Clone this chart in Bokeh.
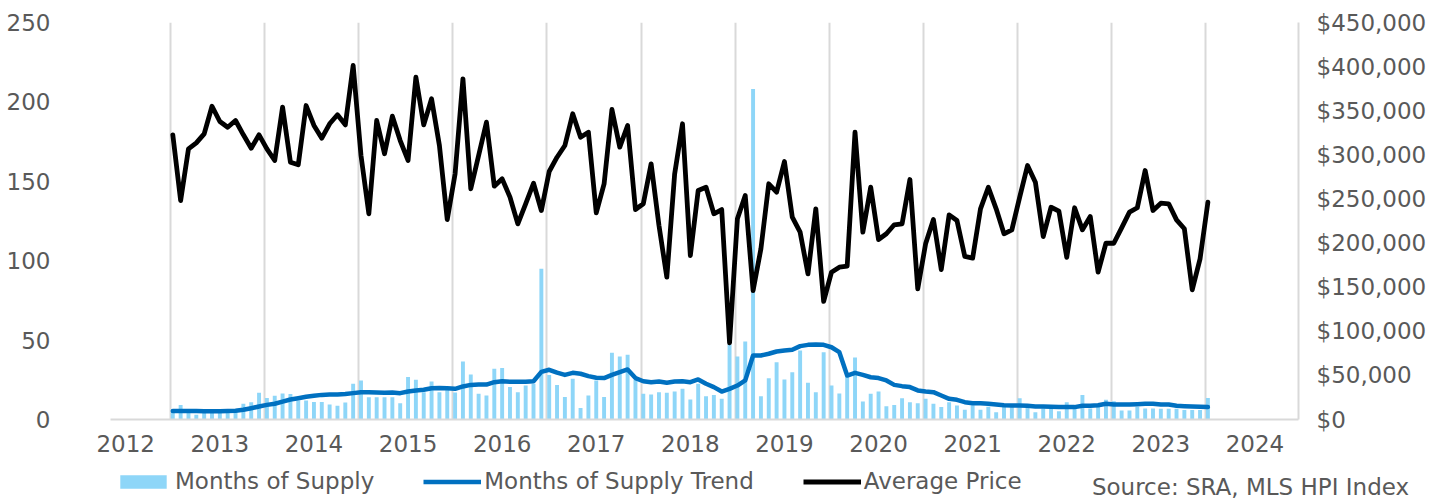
from bokeh.plotting import figure
from bokeh.layouts import column
from bokeh.models import (Range1d, LinearAxis, FixedTicker, NumeralTickFormatter,
                          Legend, LegendItem, Label, ColumnDataSource)
from bokeh.embed import file_html
from bokeh.resources import INLINE

# ---- data (monthly, July 2012 - July 2023) ----
start_year = 2012
start_month = 7
years = list(range(2012, 2025))

supply = [5, 9.2, 5, 3, 4.5, 5, 4.5, 5, 5,
          9.9, 10.9, 16.8, 13.6, 14.9, 16.4, 16.0, 12, 12, 11,
          11, 9.4, 8.6, 10.7, 22.5, 24.6, 14, 14, 14, 14,
          10.3, 26.7, 25, 17.2, 23.9, 17.2, 19, 17, 36.5, 28.3,
          16.2, 15.1, 31.9, 32.4, 20.4, 17.2, 21.4, 22.5, 94.9, 28,
          21.8, 14.1, 25.6, 7.3, 15.1, 24.6, 14.1, 42, 39.7, 40.7,
          25, 16.2, 15.7, 17.2, 16.8, 17.6, 19.3, 12.6, 22.5, 14.7,
          15.5, 13, 47, 39.7, 49.1, 208.2, 14.7, 26, 36.1, 25.2,
          29.8, 43.5, 23.1, 17.2, 42.4, 21.4, 16.4, 28.8, 39, 11.3,
          16.2, 17.6, 8.4, 9.2, 13.4, 10.9, 10.3, 13, 9.9, 7.8,
          10.9, 8.8, 6.1, 9, 6.1, 8, 4.6, 8, 8, 13.4,
          8, 4.6, 7, 7, 5.2, 10.9, 7, 15.5, 7, 8,
          12.4, 11.5, 5.7, 5.7, 8, 7, 7, 6.7, 6.7, 6.7,
          6, 6, 6, 13.6]

trend = [5.3, 5.3, 5.4, 5.3, 5.2, 5.2, 5.2, 5.3, 5.5,
         6.1, 7.1, 8.2, 9.2, 9.9, 11.3, 12.6, 13.4, 14.3, 14.9,
         15.5, 15.7, 15.7, 16.0, 16.6, 17.2, 17.2, 17.0, 16.8, 17.0,
         16.6, 17.6, 18.3, 18.7, 19.7, 19.9, 19.7, 19.3, 20.8, 21.8,
         22.0, 22.0, 23.5, 24.1, 23.7, 23.7, 23.7, 24.1, 30.0, 31.3,
         29.5, 28.1, 29.4, 28.8, 27.3, 26.3, 26.1, 28.1, 29.8, 31.5,
         26.1, 24.1, 23.5, 23.9, 23.1, 23.9, 24.1, 23.5, 25.2, 22.5,
         20.4, 17.6, 19.3, 21.4, 24.6, 40.3, 40.3, 41.4, 42.8, 43.5,
         43.9, 46.2, 47.0, 47.2, 47.0, 45.5, 42.4, 27.7, 29.4, 28.1,
         26.6, 26.1, 24.6, 21.8, 21.0, 20.4, 18.3, 17.6, 17.2, 15.1,
         13.0, 12.4, 10.9, 10.3, 10.3, 9.9, 9.4, 9.0, 8.8, 8.8,
         8.6, 8.2, 8.2, 8.0, 7.8, 7.8, 7.8, 8.6, 8.6, 9.0,
         9.9, 9.4, 9.4, 9.4, 9.6, 9.9, 9.9, 9.4, 9.4, 8.6,
         8.4, 8.2, 8.0, 7.8]

price = [322700, 248200, 306800, 313600, 323800, 355100, 337800, 331300, 338900, 322700,
         307500, 322700, 306800, 293600, 354000, 291700, 288700, 355900, 333300, 318900,
         335200, 345400, 334000, 401300, 299200, 233200, 338900, 301200, 343800, 316200,
         293600, 388000, 334000, 363500, 310600, 226700, 278500, 386200, 261500, 299200,
         337000, 264500, 272800, 252000, 221800, 244500, 267800, 236900, 281100, 297300,
         310600, 346500, 320000, 325700, 234300, 267000, 351400, 308700, 333300, 238000,
         244500, 289800, 219900, 161300, 278500, 335200, 185900, 259600, 263300, 233200,
         238000, 86900, 227500, 253900, 146200, 193500, 267200, 257700, 292400, 229300,
         212300, 165100, 238800, 133800, 167000, 172600, 173800, 325700, 212300, 263300,
         204000, 210500, 220700, 221800, 272000, 148100, 199100, 226700, 170000, 232000,
         225600, 184800, 182900, 238800, 263300, 238800, 210500, 215000, 252000, 287900,
         269000, 207400, 240600, 236100, 183900, 240000, 215000, 230100, 167000, 199800,
         199800, 217300, 235000, 240000, 282200, 236900, 245200, 244500, 226300, 216200,
         147000, 182100, 246300]

left_ticks = [0, 50, 100, 150, 200, 250]
right_ticks = [0, 50000, 100000, 150000, 200000, 250000, 300000, 350000, 400000, 450000]
series_names = ["Months of Supply", "Months of Supply Trend", "Average Price"]
source_note = "Source: SRA, MLS HPI Index"

# ---- style ----
FONT = "DejaVu Sans"
TXT = "#595959"
GRID = "#D9D9D9"
FS = "23px"
BAR_C = "#8ED6F8"
TREND_C = "#0070C0"
PRICE_C = "black"

# ---- main chart ----
n = len(price)
xs = [start_year + (start_month - 1 + i) / 12 for i in range(n)]
src = ColumnDataSource(dict(x=xs, supply=supply, trend=trend, price=price))

x0 = 2011.838
x1 = x0 + 1188 / 94.1

p = figure(width=1445, height=460,
           x_range=Range1d(x0, x1), y_range=Range1d(0, 250),
           output_backend="svg", toolbar_location=None,
           min_border_left=110, min_border_right=147,
           min_border_top=22, min_border_bottom=41)
p.extra_y_ranges = {"price": Range1d(0, 450000)}
p.outline_line_color = None

ya = p.yaxis[0]
ya.ticker = FixedTicker(ticks=left_ticks)
ya.axis_line_color = None
ya.major_tick_line_color = None
ya.minor_tick_line_color = None
ya.major_label_text_font = FONT
ya.major_label_text_font_size = FS
ya.major_label_text_color = TXT
ya.major_label_standoff = 54

ra = LinearAxis(y_range_name="price", ticker=FixedTicker(ticks=right_ticks),
                formatter=NumeralTickFormatter(format="$0,0"))
ra.axis_line_color = GRID
ra.axis_line_width = 2
ra.major_tick_line_color = None
ra.minor_tick_line_color = None
ra.major_label_text_font = FONT
ra.major_label_text_font_size = FS
ra.major_label_text_color = TXT
ra.major_label_standoff = 12
p.add_layout(ra, "right")

xa = p.xaxis[0]
xa.ticker = FixedTicker(ticks=years)
xa.axis_line_color = GRID
xa.axis_line_width = 2
xa.major_tick_line_color = None
xa.minor_tick_line_color = None
xa.major_label_text_font = FONT
xa.major_label_text_font_size = FS
xa.major_label_text_color = TXT
xa.major_label_standoff = 9

p.ygrid.visible = False
p.xgrid.ticker = FixedTicker(ticks=[y + 0.476 for y in years[:-1]])
p.xgrid.grid_line_color = GRID
p.xgrid.grid_line_width = 2

p.vbar(x="x", top="supply", width=0.5 / 12, source=src,
       fill_color=BAR_C, line_color=None)
p.line(x="x", y="trend", source=src, line_color=TREND_C,
       line_width=4.5, line_join="round", line_cap="round")
p.line(x="x", y="price", source=src, y_range_name="price",
       line_color=PRICE_C, line_width=4.8, line_join="round", line_cap="round")

# ---- legend strip (same series, drawn only as legend swatches) ----
q = figure(width=1445, height=40, x_range=Range1d(x0, x1), y_range=Range1d(1000, 1040),
           output_backend="svg", toolbar_location=None,
           min_border_left=0, min_border_right=0, min_border_top=0, min_border_bottom=0)
q.axis.visible = False
q.grid.visible = False
q.outline_line_color = None
q.extra_y_ranges = {"price": Range1d(10**7, 10**7 + 1)}
for fig in (p, q):
    if "frame_align" in fig.properties():
        fig.frame_align = False

lb = q.vbar(x="x", top="supply", width=0.5 / 12, source=src, fill_color=BAR_C, line_color=None)
lt = q.line(x="x", y="trend", source=src, line_color=TREND_C, line_width=4.5)
lp = q.line(x="x", y="price", source=src, y_range_name="price",
            line_color=PRICE_C, line_width=4.8)

legend = Legend(items=[LegendItem(label=series_names[0], renderers=[lb]),
                       LegendItem(label=series_names[1], renderers=[lt]),
                       LegendItem(label=series_names[2], renderers=[lp])],
                orientation="horizontal", location=(114, 6),
                glyph_width=58, glyph_height=17, label_height=17,
                label_standoff=3, spacing=49, padding=0, margin=0,
                border_line_color=None, background_fill_alpha=0,
                label_text_font=FONT, label_text_font_size=FS,
                label_text_color=TXT)
q.add_layout(legend, "center")

q.add_layout(Label(x=1250, y=14, x_units="screen", y_units="screen",
                   text=source_note, text_align="center", text_baseline="middle",
                   text_font=FONT, text_font_size=FS, text_color=TXT))

layout = column(p, q, spacing=0)
open("out.html", "w").write(file_html(layout, INLINE))
